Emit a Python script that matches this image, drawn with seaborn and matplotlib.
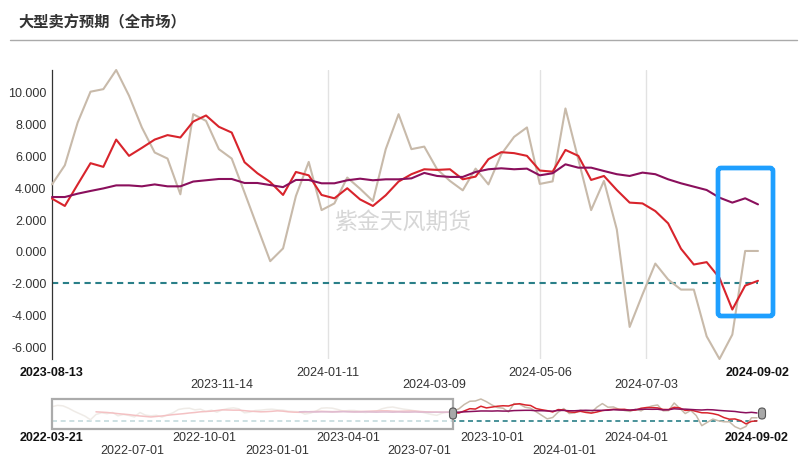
import numpy as np
import pandas as pd
import matplotlib
matplotlib.use('Agg')
import matplotlib.pyplot as plt
from matplotlib.patches import FancyBboxPatch, Rectangle
from matplotlib.lines import Line2D
from matplotlib.ticker import FormatStrFormatter
from matplotlib.transforms import IdentityTransform
import seaborn as sns

# ---------------- data ----------------
title = '大型卖方预期（全市场）'
watermark = '紫金天风期货'

main_dates = pd.date_range('2023-08-13', '2024-09-02', periods=56)
old_dates = pd.date_range('2022-03-21', '2023-08-13', periods=74)[:-1]

gray_vals = [4.17, 5.37, 8.05, 9.98, 10.14, 11.34, 9.73, 7.74, 6.17, 5.79,
             3.55, 8.57, 8.15, 6.38, 5.79, 3.66, 1.50, -0.64, 0.16, 3.44,
             5.58, 2.56, 2.98, 4.60, 3.90, 3.13, 6.38, 8.57, 6.38, 6.54,
             5.12, 4.39, 3.80, 5.16, 4.17, 6.06, 7.15, 7.74, 4.20, 4.36,
             8.93, 5.75, 2.56, 4.39, 1.35, -4.76, -2.73, -0.79, -1.79, -2.42,
             -2.42, -5.35, -6.77, -5.24, 0.00, 0.00]
red_vals = [3.28, 2.82, 4.17, 5.50, 5.27, 6.98, 5.96, 6.46, 6.98, 7.26,
            7.11, 8.11, 8.49, 7.78, 7.42, 5.56, 4.87, 4.32, 3.51, 4.95,
            4.74, 3.51, 3.30, 3.93, 3.23, 2.82, 3.49, 4.35, 4.81, 5.12,
            5.08, 5.12, 4.49, 4.66, 5.75, 6.19, 6.13, 5.96, 5.04, 4.97,
            6.33, 5.96, 4.45, 4.70, 3.82, 3.03, 2.98, 2.50, 1.73, 0.14,
            -0.85, -0.70, -1.69, -3.67, -2.17, -1.87]
purple_vals = [3.38, 3.38, 3.59, 3.76, 3.92, 4.11, 4.11, 4.05, 4.17, 4.05,
               4.05, 4.35, 4.43, 4.51, 4.51, 4.26, 4.26, 4.13, 4.00, 4.45,
               4.45, 4.24, 4.24, 4.43, 4.53, 4.43, 4.49, 4.49, 4.55, 4.89,
               4.70, 4.64, 4.64, 4.95, 5.12, 5.18, 5.12, 5.16, 4.74, 4.87,
               5.43, 5.22, 5.22, 5.01, 4.81, 4.70, 4.91, 4.81, 4.49, 4.24,
               4.03, 3.82, 3.34, 3.03, 3.30, 2.92]

gray_old = [6.7, 7.5, 7.2, 5.8, 4.0, 2.5, 1.0, -1.2, 2.0, 3.0,
            2.5, 3.2, 1.2, 2.0, 1.4, 0.5, 3.2, 1.6, 1.2, 1.5,
            0.4, 1.8, 3.0, 5.0, 5.6, 5.8, 4.8, 5.2, 3.8, 4.6,
            3.4, 4.8, 5.6, 6.0, 5.4, 3.0, 3.4, 4.4, 4.6, 5.0,
            5.2, 4.8, 4.6, 4.0, 3.8, 3.6, 2.2, 2.8, 4.0, 5.8,
            6.0, 5.8, 5.0, 4.0, 4.4, 4.4, 3.8, 3.2, 3.6, 4.0,
            5.4, 6.2, 6.5, 5.8, 5.2, 4.8, 4.2, 3.6, 2.8, 2.0,
            1.5, 2.8, 3.6]
red_old = [None] * 8 + [
    3.6, 3.4, 3.2, 2.9, 2.5, 2.2, 1.9, 1.5, 1.1, 0.8,
    0.5, 0.8, 1.1, 1.5, 1.9, 2.2, 2.5, 2.9, 3.2, 3.6,
    3.8, 4.0, 4.4, 4.8, 4.7, 4.6, 4.6, 4.3, 4.0, 3.8,
    3.6, 3.7, 3.9, 4.2, 4.0, 3.6, 3.4, 3.3, 3.5, 3.7,
    3.8, 3.9, 3.8, 3.7, 3.8, 3.9, 3.8, 3.7, 3.8, 3.9,
    4.0, 4.1, 4.2, 4.2, 4.0, 3.9, 4.0, 4.1, 4.0, 3.8,
    3.6, 3.5, 3.4, 3.3, 3.3]
purple_old = [None] * 45 + [
    3.6, 3.7, 3.6, 3.5, 3.6, 3.6, 3.5, 3.6, 3.7, 3.6,
    3.5, 3.5, 3.6, 3.5, 3.4, 3.5, 3.5, 3.4, 3.5, 3.4,
    3.4, 3.5, 3.4, 3.4, 3.3, 3.4, 3.4, 3.4]

main_ticks = ['2023-08-13', '2023-11-14', '2024-01-11', '2024-03-09',
              '2024-05-06', '2024-07-03', '2024-09-02']
main_rows = [0, 1, 0, 1, 0, 1, 0]
grid_dates = ['2024-01-11', '2024-05-06', '2024-07-03']
nav_ticks = ['2022-03-21', '2022-07-01', '2022-10-01', '2023-01-01',
             '2023-04-01', '2023-07-01', '2023-10-01', '2024-01-01',
             '2024-04-01', '2024-09-02']
nav_rows = [0, 1, 0, 1, 0, 1, 0, 1, 0, 0]
threshold = -2.0

C_GRAY = '#C8BAAA'
C_RED = '#D8242C'
C_PURPLE = '#8A0F5C'
C_TEAL = '#2A7F88'
C_TEXT = '#333333'

main_df = pd.DataFrame({'date': main_dates, 'gray': gray_vals,
                        'red': red_vals, 'purple': purple_vals})
old_df = pd.DataFrame({'date': old_dates,
                       'gray': pd.to_numeric(pd.Series(gray_old), errors='coerce'),
                       'red': pd.to_numeric(pd.Series(red_old), errors='coerce'),
                       'purple': pd.to_numeric(pd.Series(purple_old), errors='coerce')})
full_df = pd.concat([old_df, main_df], ignore_index=True)

# ---------------- figure ----------------
W, H = 807, 460
sns.set_style('white')
plt.rcParams['font.family'] = ['Liberation Sans', 'Noto Sans CJK SC', 'DejaVu Sans']

fig = plt.figure(figsize=(W / 100, H / 100), dpi=100)


def px_axes(l, t, r, b):
    return fig.add_axes([l / W, 1 - b / H, (r - l) / W, (b - t) / H])


lo = np.nanmin(main_df[['gray', 'red', 'purple']].values)
hi = np.nanmax(main_df[['gray', 'red', 'purple']].values)

# ---- main axes ----
ax = px_axes(52, 71, 758, 360)
for d in grid_dates:
    ax.axvline(pd.Timestamp(d), color='#e2e2e2', lw=1, zorder=0)
ax.axhline(threshold, color=C_TEAL, lw=1.5, ls=(0, (3, 2.2)), zorder=1)
for col, c in [('gray', C_GRAY), ('red', C_RED), ('purple', C_PURPLE)]:
    sns.lineplot(data=main_df, x='date', y=col, ax=ax, color=c, lw=1.5,
                 clip_on=False, zorder=3)
ax.set_xlim(main_dates[0], main_dates[-1])
ax.set_ylim(lo, hi)
ax.set_xlabel('')
ax.set_ylabel('')
ax.set_yticks(np.arange(-6, 11, 2))
ax.yaxis.set_major_formatter(FormatStrFormatter('%.3f'))
ax.tick_params(axis='y', length=0, pad=4, labelsize=9, labelcolor=C_TEXT)
ax.set_xticks([pd.Timestamp(d) for d in main_ticks])
ax.set_xticklabels([('\n' if r else '') + d for d, r in zip(main_ticks, main_rows)])
ax.tick_params(axis='x', length=0, pad=5, labelsize=9, labelcolor=C_TEXT)
labs = ax.get_xticklabels()
for i, lab in enumerate(labs):
    lab.set_linespacing(1.05)
    if i in (0, len(labs) - 1):
        lab.set_fontweight('bold')
        lab.set_color('#111111')
for s in ['top', 'right', 'bottom']:
    ax.spines[s].set_visible(False)
ax.spines['left'].set_color('#333333')
ax.spines['left'].set_linewidth(0.9)
ax.patch.set_alpha(0)

# ---- navigator ----
nav = px_axes(52, 400, 757, 430)
nav.axhline(threshold, color=C_TEAL, lw=1.2, ls=(0, (3, 2.2)), zorder=1)
for col, c in [('gray', C_GRAY), ('red', C_RED), ('purple', C_PURPLE)]:
    sns.lineplot(data=full_df.dropna(subset=[col]), x='date', y=col, ax=nav,
                 color=c, lw=1.1, clip_on=False, zorder=3)
nav.set_xlim(old_dates[0], main_dates[-1])
nav.set_ylim(lo, hi)
nav.set_xlabel('')
nav.set_ylabel('')
nav.set_yticks([])
nav.set_xticks([pd.Timestamp(d) for d in nav_ticks])
nav.set_xticklabels([('\n' if r else '') + d for d, r in zip(nav_ticks, nav_rows)])
nav.tick_params(axis='x', length=0, pad=1.5, labelsize=9, labelcolor=C_TEXT)
nlabs = nav.get_xticklabels()
for i, lab in enumerate(nlabs):
    lab.set_linespacing(1.05)
    if i in (0, len(nlabs) - 1):
        lab.set_fontweight('bold')
        lab.set_color('#111111')
for s in nav.spines.values():
    s.set_visible(False)
nav.patch.set_alpha(0)

x0 = matplotlib.dates.date2num(old_dates[0])
x1 = matplotlib.dates.date2num(main_dates[0])
nav.add_patch(Rectangle((x0, 0), x1 - x0, 1, transform=nav.get_xaxis_transform(),
                        facecolor=(1, 1, 1, 0.72), edgecolor='#ababab', lw=1.6,
                        clip_on=False, zorder=5))

# handles (pixel coords)
for cx in (453, 762):
    fig.add_artist(FancyBboxPatch((cx - 3.5, H - 420), 7, 11,
                                  boxstyle='round,pad=0,rounding_size=3.5',
                                  transform=IdentityTransform(),
                                  facecolor='#a8a8a8', edgecolor='#555555', lw=0.8,
                                  zorder=6))

# ---- title, separator, watermark, highlight box ----
fig.text(18 / W, 1 - 22 / H, title, fontsize=11, color=C_TEXT, ha='left',
         va='center', family=['Noto Sans CJK SC', 'DejaVu Sans'], weight='bold')
fig.add_artist(Line2D([10 / W, 797 / W], [1 - 40.5 / H] * 2, color='#aaaaaa', lw=1))
fig.text(403 / W, 1 - 222 / H, watermark, fontsize=16.5, color='#d6d6d6',
         ha='center', va='center', family=['Noto Sans CJK SC', 'DejaVu Sans'],
         zorder=2)
fig.add_artist(FancyBboxPatch((718, H - 317), 55, 148,
                              boxstyle='round,pad=0,rounding_size=3',
                              transform=IdentityTransform(), fill=False,
                              edgecolor='#1E9FFF', lw=3.4, zorder=10))

fig.savefig('out.png', dpi=100)
